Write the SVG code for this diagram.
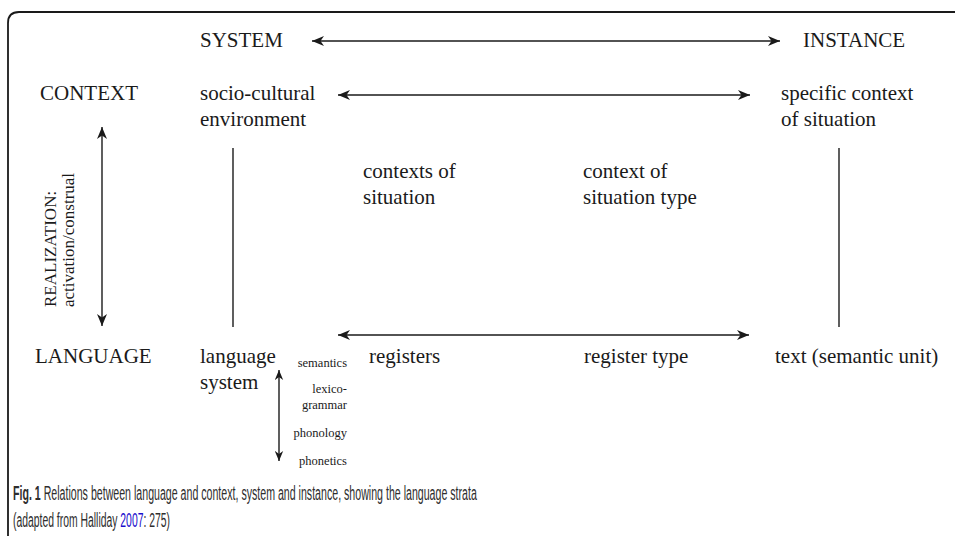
<svg xmlns="http://www.w3.org/2000/svg" width="955" height="536" viewBox="0 0 955 536">
<defs>
<marker id="ah" viewBox="0 0 12 10" refX="12" refY="5" markerWidth="12" markerHeight="10" markerUnits="userSpaceOnUse" orient="auto-start-reverse">
<path d="M0,0 L12,5 L0,10 L3.5,5 Z" fill="#1a1a1a"/>
</marker>
<marker id="ahs" viewBox="0 0 12 10" refX="12" refY="5" markerWidth="10" markerHeight="9" markerUnits="userSpaceOnUse" orient="auto-start-reverse">
<path d="M0,0 L12,5 L0,10 L3.5,5 Z" fill="#1a1a1a"/>
</marker>
</defs>
<style>
.t{font-family:"Liberation Serif","Times New Roman",serif;font-size:21px;fill:#1a1a1a}
.s{font-family:"Liberation Serif","Times New Roman",serif;font-size:12.5px;fill:#1a1a1a}
.r{font-family:"Liberation Serif","Times New Roman",serif;font-size:17px;fill:#1a1a1a}
.c{font-family:"Liberation Sans",Arial,sans-serif;font-size:21px;fill:#2e2e2e}
.lnk{fill:#1a0dcc}
.ln{stroke:#1a1a1a;stroke-width:1.4;fill:none}
</style>
<rect width="955" height="536" fill="#fff"/>
<path d="M8,536 L8,23 Q8,12 19,12 L955,12" fill="none" stroke="#1a1a1a" stroke-width="1.8"/>

<g id="connectors">
<line class="ln" x1="312" y1="41" x2="780" y2="41" marker-start="url(#ah)" marker-end="url(#ah)"/>
<line class="ln" x1="338" y1="95" x2="750" y2="95" marker-start="url(#ah)" marker-end="url(#ah)"/>
<line class="ln" x1="338" y1="335" x2="749" y2="335" marker-start="url(#ah)" marker-end="url(#ah)"/>
<line class="ln" x1="102" y1="127" x2="102" y2="326" marker-start="url(#ah)" marker-end="url(#ah)"/>
<line class="ln" x1="233" y1="148" x2="233" y2="327"/>
<line class="ln" x1="839" y1="148" x2="839" y2="327"/>
<line class="ln" x1="279" y1="370" x2="279" y2="461" marker-start="url(#ahs)" marker-end="url(#ahs)"/>
</g>

<g id="system"><text class="t" x="200" y="47">SYSTEM</text></g>
<g id="instance"><text class="t" x="803" y="47">INSTANCE</text></g>
<g id="context"><text class="t" x="40" y="100">CONTEXT</text></g>
<g id="socio-cultural"><text class="t" x="200" y="100">socio-cultural</text><text class="t" x="200" y="126">environment</text></g>
<g id="specific-context"><text class="t" x="781" y="100">specific context</text><text class="t" x="781" y="126">of situation</text></g>
<g id="contexts-of-situation"><text class="t" x="363" y="178">contexts of</text><text class="t" x="363" y="204">situation</text></g>
<g id="context-of-situation-type"><text class="t" x="583" y="178">context of</text><text class="t" x="583" y="204">situation type</text></g>
<g id="realization">
<text class="r" transform="translate(56,307) rotate(-90)">REALIZATION:</text>
<text class="r" transform="translate(74,307) rotate(-90)">activation/construal</text>
</g>
<g id="language"><text class="t" x="35" y="363">LANGUAGE</text></g>
<g id="language-system"><text class="t" x="200" y="363">language</text><text class="t" x="200" y="389">system</text></g>
<g id="registers"><text class="t" x="369" y="363">registers</text></g>
<g id="register-type"><text class="t" x="584" y="363">register type</text></g>
<g id="text-unit"><text class="t" x="775" y="363">text (semantic unit)</text></g>
<g id="strata" text-anchor="end">
<text class="s" x="347" y="367">semantics</text>
<text class="s" x="347" y="393">lexico-</text>
<text class="s" x="347" y="409">grammar</text>
<text class="s" x="347" y="437">phonology</text>
<text class="s" x="347" y="465">phonetics</text>
</g>
<g id="caption">
<text class="c" transform="translate(13,500) scale(0.506,1)"><tspan font-weight="bold">Fig. 1</tspan> Relations between language and context, system and instance, showing the language strata</text>
<text class="c" transform="translate(13,527) scale(0.495,1)">(adapted from Halliday <tspan class="lnk">2007</tspan>: 275)</text>
</g>
</svg>
